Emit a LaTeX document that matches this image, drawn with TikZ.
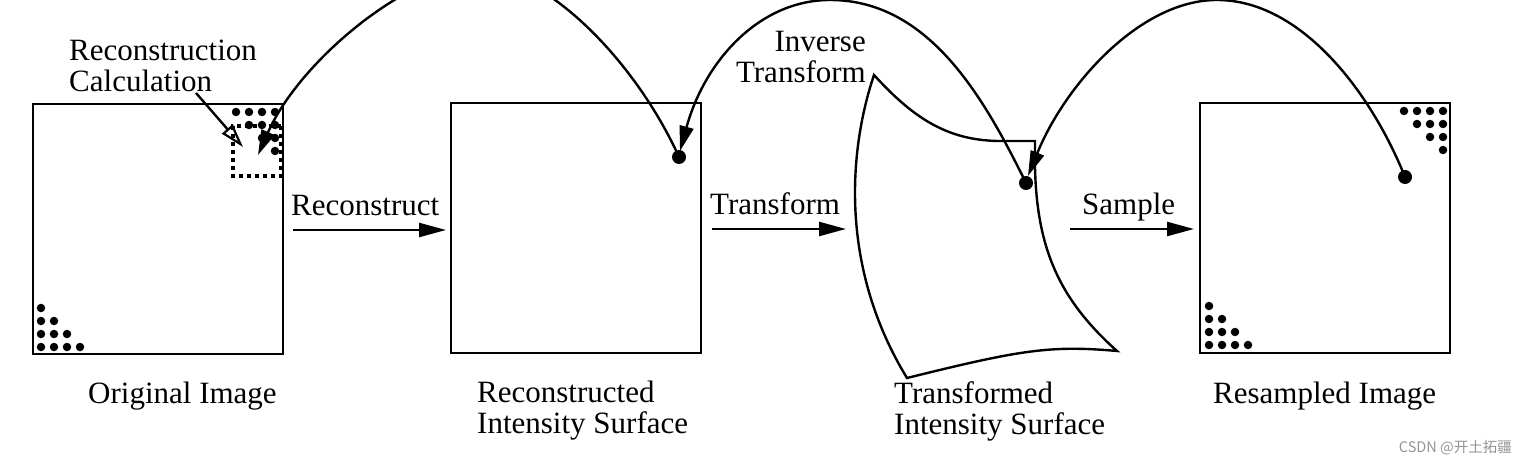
\documentclass[tikz,border=0pt]{standalone}
\usepackage{fontspec}
\setmainfont{Liberation Serif}
\newfontfamily\cjkfont{Noto Sans CJK SC}
\usetikzlibrary{arrows.meta}
\begin{document}
\begin{tikzpicture}[x=1pt,y=-1pt,
  lbl/.style={inner sep=0pt,font=\fontsize{31}{31}\selectfont},
  imgbox/.style={draw,line width=2.6pt,minimum width=250pt,minimum height=250pt,outer sep=0pt,inner sep=0pt},
  smalldot/.style={circle,fill,inner sep=0pt,minimum size=8.5pt},
  bigdot/.style={circle,fill,inner sep=0pt,minimum size=14pt},
  line/.style={line width=2.4pt},
  arr/.style={line width=2.4pt,-{Triangle[length=27pt,width=14pt]}},
  carr/.style={line width=2.4pt,-{Triangle[length=25pt,width=14pt]}},
  harr/.style={line width=2.4pt,-{Triangle[open,length=24pt,width=14pt,line width=2.2pt]}},
  dotrect/.style={line width=4.2pt,dash pattern=on 4pt off 4pt}
]
\useasboundingbox (0,0) rectangle (1530,465);

% image boxes
\node[imgbox] (orig) at (158,229) {};
\node[imgbox] (recon) at (576,228) {};
\node[imgbox] (resamp) at (1325,228) {};

% dot triangles
\foreach \i/\x/\y in {1/41/308, 2/41/321, 3/54/321, 4/41/334, 5/54/334, 6/67/334, 7/41/347, 8/54/347, 9/67/347, 10/80/347}
  \node[smalldot] (oa\i) at (\x,\y) {};
\foreach \i/\x/\y in {1/236/112, 2/249/112, 3/262/112, 4/275/112, 5/249/125, 6/262/125, 7/275/125, 8/262/138, 9/275/138, 10/275/151}
  \node[smalldot] (ob\i) at (\x,\y) {};
\foreach \i/\x/\y in {1/1209/306, 2/1209/319, 3/1222/319, 4/1209/332, 5/1222/332, 6/1235/332, 7/1209/345, 8/1222/345, 9/1235/345, 10/1248/345}
  \node[smalldot] (ra\i) at (\x,\y) {};
\foreach \i/\x/\y in {1/1404/111, 2/1417/111, 3/1430/111, 4/1443/111, 5/1417/124, 6/1430/124, 7/1443/124, 8/1430/137, 9/1443/137, 10/1443/150}
  \node[smalldot] (rb\i) at (\x,\y) {};

% dotted reconstruction window
\draw[dotrect] (281,126) -- (233,126) -- (233,176) -- (281,176) -- cycle;
\coordinate (win) at (243,147);
\coordinate (wintip) at (258,155);

% transformed surface
\draw[line] (874,75) .. controls (915,120) and (950,142) .. (1005,141) -- (1035,141) -- (1035,168)
  .. controls (1037,250) and (1060,300) .. (1117,351)
  .. controls (1050,345) and (1020,350) .. (907,378)
  .. controls (835,260) and (852,140) .. cycle;

% surface points
\node[bigdot] (p2) at (679,157) {};
\node[bigdot] (p3) at (1026,183) {};
\node[bigdot] (p4) at (1405,177) {};

% straight arrows
\coordinate (a1s) at (293,230); \coordinate (a1e) at (446,230);
\coordinate (a2s) at (712,229); \coordinate (a2e) at (846,229);
\coordinate (a3s) at (1070,229); \coordinate (a3e) at (1194,229);
\draw[arr] (a1s) -- (a1e);
\draw[arr] (a2s) -- (a2e);
\draw[arr] (a3s) -- (a3e);

% labels
\node[lbl,anchor=base west,align=left] (calc) at (69,92) {Reconstruction\\Calculation};
\node[lbl,anchor=base west] (lrec) at (291,215) {Reconstruct};
\node[lbl,anchor=base west] (ltra) at (710,214) {Transform};
\node[lbl,anchor=base west] (lsam) at (1082,214) {Sample};
\node[lbl,anchor=base east,align=right] (linv) at (866,83) {Inverse\\Transform};
\node[lbl,anchor=base west] (t1) at (88,403) {Original Image};
\node[lbl,anchor=base west,align=left] (t2) at (477,433) {Reconstructed\\Intensity Surface};
\node[lbl,anchor=base west,align=left] (t3) at (894,434) {Transformed\\Intensity Surface};
\node[lbl,anchor=base west] (t4) at (1213,403) {Resampled Image};
\node[inner sep=0pt,anchor=base east,text=black!42,font=\cjkfont\fontsize{14.5}{15}\selectfont] (wm) at (1512,452) {CSDN @开土拓疆};

% hollow arrow to window
\coordinate (cs) at (196,93);
\draw[harr] (cs) -- (win);

% curved arrows
\draw[carr] (p2.center) .. controls (635,60) and (545,-30) .. (480,-30)
  .. controls (410,-30) and (300,60) .. (wintip);
\draw[carr] (p3.center) .. controls (985,100) and (930,0) .. (830,0)
  .. controls (760,0) and (705,60) .. (680,151);
\draw[carr] (p4.center) .. controls (1370,90) and (1300,0) .. (1217,0)
  .. controls (1140,0) and (1065,85) .. (1028,176);
\end{tikzpicture}
\end{document}
